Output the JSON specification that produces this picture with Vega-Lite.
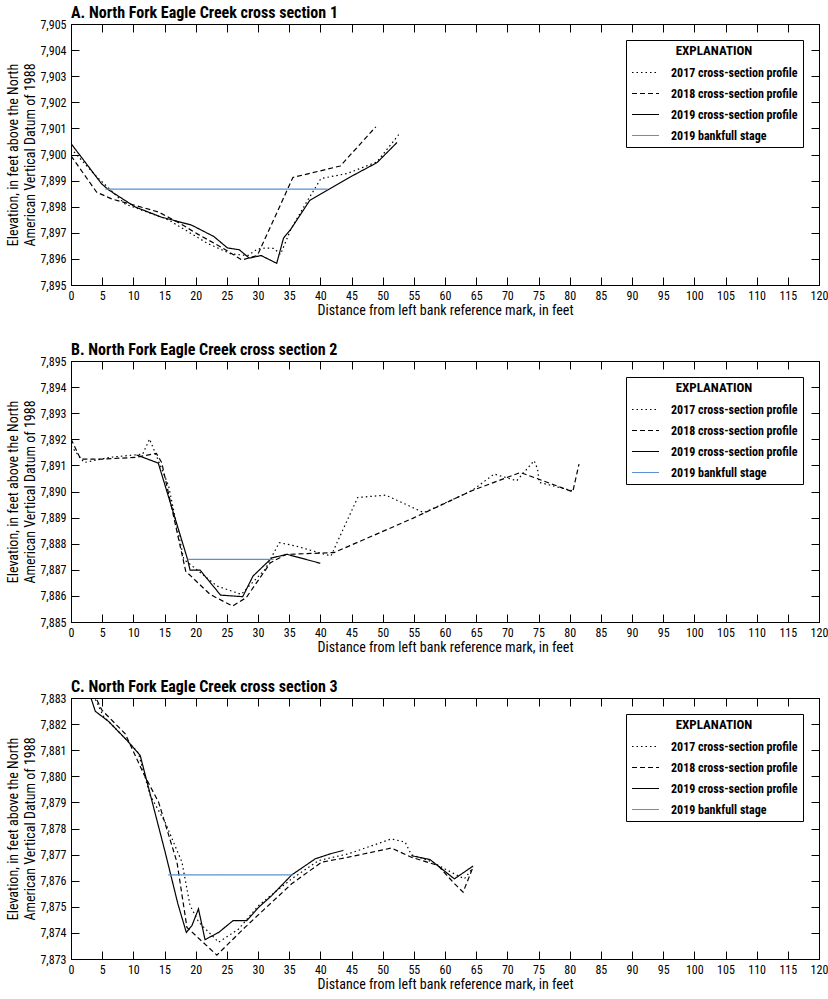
{
  "$schema": "https://vega.github.io/schema/vega-lite/v6.json",
  "padding": {"left": 6, "top": 4, "right": 0, "bottom": 0},
  "config": {
    "font": "Liberation Sans Narrow, Roboto Condensed, DejaVu Sans Condensed, sans-serif",
    "view": {"stroke": "black", "strokeWidth": 1},
    "concat": {"spacing": 23},
    "axis": {"grid": false, "domainColor": "black", "tickColor": "black", "tickSize": -8, "labelColor": "black", "labelFontSize": 12, "labelPadding": 13, "titleColor": "black", "titleFontSize": 14, "titleFontWeight": "normal", "titlePadding": 2, "titleLineHeight": 17, "labelFlush": false, "labelOverlap": false},
    "legend": {"orient": "top-right", "offset": 16, "strokeColor": "black", "fillColor": "white", "padding": 5, "titleFontSize": 13, "titleFontWeight": "bold", "titleColor": "black", "titlePadding": 0, "labelFontSize": 12, "labelFontWeight": "bold", "labelColor": "black", "labelOffset": 11, "symbolType": "stroke", "symbolSize": 729, "symbolStrokeWidth": 1.2, "rowPadding": -6},
    "title": {"anchor": "start", "frame": "group", "fontSize": 16, "fontWeight": "bold", "color": "black", "offset": -3}
  },
  "data": {"values": [
    {"p": "A", "s": "2017", "seg": 1, "x": 0, "y": 7900.23},
    {"p": "A", "s": "2017", "seg": 1, "x": 3.9, "y": 7899.2},
    {"p": "A", "s": "2017", "seg": 1, "x": 8.7, "y": 7898.1},
    {"p": "A", "s": "2017", "seg": 1, "x": 15.6, "y": 7897.5},
    {"p": "A", "s": "2017", "seg": 1, "x": 22, "y": 7896.58},
    {"p": "A", "s": "2017", "seg": 1, "x": 25.7, "y": 7896.19},
    {"p": "A", "s": "2017", "seg": 1, "x": 28.4, "y": 7896.13},
    {"p": "A", "s": "2017", "seg": 1, "x": 29.9, "y": 7896.38},
    {"p": "A", "s": "2017", "seg": 1, "x": 31.3, "y": 7896.42},
    {"p": "A", "s": "2017", "seg": 1, "x": 32.6, "y": 7896.4},
    {"p": "A", "s": "2017", "seg": 1, "x": 33.6, "y": 7896.17},
    {"p": "A", "s": "2017", "seg": 1, "x": 35.3, "y": 7897.15},
    {"p": "A", "s": "2017", "seg": 1, "x": 37.8, "y": 7898.18},
    {"p": "A", "s": "2017", "seg": 1, "x": 40.1, "y": 7899.08},
    {"p": "A", "s": "2017", "seg": 1, "x": 44.3, "y": 7899.27},
    {"p": "A", "s": "2017", "seg": 1, "x": 49.1, "y": 7899.72},
    {"p": "A", "s": "2017", "seg": 1, "x": 52.6, "y": 7900.77},
    {"p": "A", "s": "2018", "seg": 1, "x": 0, "y": 7899.95},
    {"p": "A", "s": "2018", "seg": 1, "x": 4.1, "y": 7898.56},
    {"p": "A", "s": "2018", "seg": 1, "x": 6.5, "y": 7898.3},
    {"p": "A", "s": "2018", "seg": 1, "x": 10.3, "y": 7898.05},
    {"p": "A", "s": "2018", "seg": 1, "x": 14, "y": 7897.8},
    {"p": "A", "s": "2018", "seg": 1, "x": 17.2, "y": 7897.4},
    {"p": "A", "s": "2018", "seg": 1, "x": 20.4, "y": 7896.94},
    {"p": "A", "s": "2018", "seg": 1, "x": 24.1, "y": 7896.45},
    {"p": "A", "s": "2018", "seg": 1, "x": 27.4, "y": 7895.96},
    {"p": "A", "s": "2018", "seg": 1, "x": 29.9, "y": 7896.13},
    {"p": "A", "s": "2018", "seg": 1, "x": 35.6, "y": 7899.12},
    {"p": "A", "s": "2018", "seg": 1, "x": 43.2, "y": 7899.56},
    {"p": "A", "s": "2018", "seg": 1, "x": 48.9, "y": 7901.06},
    {"p": "A", "s": "2019", "seg": 1, "x": 0, "y": 7900.42},
    {"p": "A", "s": "2019", "seg": 1, "x": 4.9, "y": 7898.88},
    {"p": "A", "s": "2019", "seg": 1, "x": 6, "y": 7898.65},
    {"p": "A", "s": "2019", "seg": 1, "x": 10.3, "y": 7897.99},
    {"p": "A", "s": "2019", "seg": 1, "x": 14.5, "y": 7897.6},
    {"p": "A", "s": "2019", "seg": 1, "x": 19.3, "y": 7897.3},
    {"p": "A", "s": "2019", "seg": 1, "x": 22.9, "y": 7896.86},
    {"p": "A", "s": "2019", "seg": 1, "x": 25.1, "y": 7896.42},
    {"p": "A", "s": "2019", "seg": 1, "x": 27, "y": 7896.35},
    {"p": "A", "s": "2019", "seg": 1, "x": 28.6, "y": 7896.03},
    {"p": "A", "s": "2019", "seg": 1, "x": 30.5, "y": 7896.13},
    {"p": "A", "s": "2019", "seg": 1, "x": 33, "y": 7895.83},
    {"p": "A", "s": "2019", "seg": 1, "x": 34.1, "y": 7896.8},
    {"p": "A", "s": "2019", "seg": 1, "x": 35.3, "y": 7897.15},
    {"p": "A", "s": "2019", "seg": 1, "x": 38.3, "y": 7898.24},
    {"p": "A", "s": "2019", "seg": 1, "x": 41.1, "y": 7898.63},
    {"p": "A", "s": "2019", "seg": 1, "x": 44.8, "y": 7899.14},
    {"p": "A", "s": "2019", "seg": 1, "x": 49.1, "y": 7899.69},
    {"p": "A", "s": "2019", "seg": 1, "x": 52.3, "y": 7900.46},
    {"p": "A", "s": "bankfull", "seg": 1, "x": 5.5, "y": 7898.67},
    {"p": "A", "s": "bankfull", "seg": 1, "x": 41.2, "y": 7898.67},

    {"p": "B", "s": "2017", "seg": 1, "x": 0, "y": 7891.75},
    {"p": "B", "s": "2017", "seg": 1, "x": 2.1, "y": 7891.11},
    {"p": "B", "s": "2017", "seg": 1, "x": 6.25, "y": 7891.31},
    {"p": "B", "s": "2017", "seg": 1, "x": 11.5, "y": 7891.43},
    {"p": "B", "s": "2017", "seg": 1, "x": 12.6, "y": 7892.01},
    {"p": "B", "s": "2017", "seg": 1, "x": 13.7, "y": 7891.37},
    {"p": "B", "s": "2017", "seg": 1, "x": 15.65, "y": 7890.22},
    {"p": "B", "s": "2017", "seg": 1, "x": 18.1, "y": 7887.4},
    {"p": "B", "s": "2017", "seg": 1, "x": 20.1, "y": 7887.02},
    {"p": "B", "s": "2017", "seg": 1, "x": 23.4, "y": 7886.38},
    {"p": "B", "s": "2017", "seg": 1, "x": 27.3, "y": 7886.06},
    {"p": "B", "s": "2017", "seg": 1, "x": 31.15, "y": 7887.02},
    {"p": "B", "s": "2017", "seg": 1, "x": 33.4, "y": 7888.04},
    {"p": "B", "s": "2017", "seg": 1, "x": 36.1, "y": 7887.91},
    {"p": "B", "s": "2017", "seg": 1, "x": 39.7, "y": 7887.66},
    {"p": "B", "s": "2017", "seg": 1, "x": 41.7, "y": 7887.53},
    {"p": "B", "s": "2017", "seg": 1, "x": 43.9, "y": 7888.68},
    {"p": "B", "s": "2017", "seg": 1, "x": 46, "y": 7889.77},
    {"p": "B", "s": "2017", "seg": 1, "x": 50.5, "y": 7889.86},
    {"p": "B", "s": "2017", "seg": 1, "x": 56.6, "y": 7889.19},
    {"p": "B", "s": "2017", "seg": 1, "x": 64.3, "y": 7890.03},
    {"p": "B", "s": "2017", "seg": 1, "x": 67.9, "y": 7890.67},
    {"p": "B", "s": "2017", "seg": 1, "x": 71.5, "y": 7890.41},
    {"p": "B", "s": "2017", "seg": 1, "x": 74.3, "y": 7891.18},
    {"p": "B", "s": "2017", "seg": 1, "x": 74.85, "y": 7890.86},
    {"p": "B", "s": "2017", "seg": 1, "x": 75.1, "y": 7890.35},
    {"p": "B", "s": "2017", "seg": 1, "x": 80.4, "y": 7890.03},
    {"p": "B", "s": "2018", "seg": 1, "x": 0, "y": 7892.01},
    {"p": "B", "s": "2018", "seg": 1, "x": 1.55, "y": 7891.24},
    {"p": "B", "s": "2018", "seg": 1, "x": 5.1, "y": 7891.24},
    {"p": "B", "s": "2018", "seg": 1, "x": 10.4, "y": 7891.31},
    {"p": "B", "s": "2018", "seg": 1, "x": 13.7, "y": 7891.46},
    {"p": "B", "s": "2018", "seg": 1, "x": 14.55, "y": 7891.11},
    {"p": "B", "s": "2018", "seg": 1, "x": 18.4, "y": 7886.95},
    {"p": "B", "s": "2018", "seg": 1, "x": 22.3, "y": 7886.06},
    {"p": "B", "s": "2018", "seg": 1, "x": 25.9, "y": 7885.61},
    {"p": "B", "s": "2018", "seg": 1, "x": 28.1, "y": 7885.93},
    {"p": "B", "s": "2018", "seg": 1, "x": 32, "y": 7887.27},
    {"p": "B", "s": "2018", "seg": 1, "x": 34.5, "y": 7887.59},
    {"p": "B", "s": "2018", "seg": 1, "x": 42.2, "y": 7887.66},
    {"p": "B", "s": "2018", "seg": 1, "x": 54.9, "y": 7888.98},
    {"p": "B", "s": "2018", "seg": 1, "x": 64.3, "y": 7890.03},
    {"p": "B", "s": "2018", "seg": 1, "x": 72.1, "y": 7890.73},
    {"p": "B", "s": "2018", "seg": 1, "x": 74.6, "y": 7890.51},
    {"p": "B", "s": "2018", "seg": 1, "x": 80.5, "y": 7889.99},
    {"p": "B", "s": "2018", "seg": 1, "x": 81.5, "y": 7891.05},
    {"p": "B", "s": "2019", "seg": 1, "x": 10.5, "y": 7891.4},
    {"p": "B", "s": "2019", "seg": 1, "x": 14, "y": 7891.09},
    {"p": "B", "s": "2019", "seg": 1, "x": 18.7, "y": 7887.4},
    {"p": "B", "s": "2019", "seg": 1, "x": 19.1, "y": 7886.99},
    {"p": "B", "s": "2019", "seg": 1, "x": 20.7, "y": 7886.99},
    {"p": "B", "s": "2019", "seg": 1, "x": 24, "y": 7886.03},
    {"p": "B", "s": "2019", "seg": 1, "x": 27.55, "y": 7885.97},
    {"p": "B", "s": "2019", "seg": 1, "x": 29.2, "y": 7886.76},
    {"p": "B", "s": "2019", "seg": 1, "x": 32.25, "y": 7887.46},
    {"p": "B", "s": "2019", "seg": 1, "x": 34.7, "y": 7887.59},
    {"p": "B", "s": "2019", "seg": 1, "x": 40, "y": 7887.25},
    {"p": "B", "s": "bankfull", "seg": 1, "x": 18.7, "y": 7887.4},
    {"p": "B", "s": "bankfull", "seg": 1, "x": 32.5, "y": 7887.4},

    {"p": "C", "s": "2017", "seg": 1, "x": 3.6, "y": 7883.1},
    {"p": "C", "s": "2017", "seg": 1, "x": 5.2, "y": 7882.3},
    {"p": "C", "s": "2017", "seg": 1, "x": 8.5, "y": 7881.5},
    {"p": "C", "s": "2017", "seg": 1, "x": 10.8, "y": 7880.9},
    {"p": "C", "s": "2017", "seg": 1, "x": 12.7, "y": 7879.27},
    {"p": "C", "s": "2017", "seg": 1, "x": 15.1, "y": 7878.24},
    {"p": "C", "s": "2017", "seg": 1, "x": 17.8, "y": 7876.71},
    {"p": "C", "s": "2017", "seg": 1, "x": 19.1, "y": 7875.05},
    {"p": "C", "s": "2017", "seg": 1, "x": 20.5, "y": 7874.41},
    {"p": "C", "s": "2017", "seg": 1, "x": 23.7, "y": 7873.64},
    {"p": "C", "s": "2017", "seg": 1, "x": 26.9, "y": 7874.15},
    {"p": "C", "s": "2017", "seg": 1, "x": 30.1, "y": 7875.05},
    {"p": "C", "s": "2017", "seg": 1, "x": 32.7, "y": 7875.56},
    {"p": "C", "s": "2017", "seg": 1, "x": 35.4, "y": 7876.07},
    {"p": "C", "s": "2017", "seg": 1, "x": 39.7, "y": 7876.77},
    {"p": "C", "s": "2017", "seg": 1, "x": 44.5, "y": 7877.03},
    {"p": "C", "s": "2017", "seg": 1, "x": 51.4, "y": 7877.6},
    {"p": "C", "s": "2017", "seg": 1, "x": 53.6, "y": 7877.48},
    {"p": "C", "s": "2017", "seg": 1, "x": 54.6, "y": 7877.0},
    {"p": "C", "s": "2017", "seg": 1, "x": 57.85, "y": 7876.73},
    {"p": "C", "s": "2017", "seg": 1, "x": 60, "y": 7876.45},
    {"p": "C", "s": "2017", "seg": 1, "x": 63.1, "y": 7876.07},
    {"p": "C", "s": "2017", "seg": 1, "x": 64.5, "y": 7876.5},
    {"p": "C", "s": "2018", "seg": 1, "x": 3.6, "y": 7883.2},
    {"p": "C", "s": "2018", "seg": 1, "x": 4.97, "y": 7882.53},
    {"p": "C", "s": "2018", "seg": 1, "x": 8.7, "y": 7881.63},
    {"p": "C", "s": "2018", "seg": 1, "x": 11.65, "y": 7880.1},
    {"p": "C", "s": "2018", "seg": 1, "x": 14.05, "y": 7879.01},
    {"p": "C", "s": "2018", "seg": 1, "x": 17, "y": 7876.71},
    {"p": "C", "s": "2018", "seg": 1, "x": 18.6, "y": 7874.21},
    {"p": "C", "s": "2018", "seg": 1, "x": 23.4, "y": 7873.15},
    {"p": "C", "s": "2018", "seg": 1, "x": 27.9, "y": 7874.21},
    {"p": "C", "s": "2018", "seg": 1, "x": 32.2, "y": 7875.17},
    {"p": "C", "s": "2018", "seg": 1, "x": 35.4, "y": 7875.88},
    {"p": "C", "s": "2018", "seg": 1, "x": 40.2, "y": 7876.71},
    {"p": "C", "s": "2018", "seg": 1, "x": 44.5, "y": 7876.9},
    {"p": "C", "s": "2018", "seg": 1, "x": 51.4, "y": 7877.25},
    {"p": "C", "s": "2018", "seg": 1, "x": 54.6, "y": 7876.9},
    {"p": "C", "s": "2018", "seg": 1, "x": 58.9, "y": 7876.58},
    {"p": "C", "s": "2018", "seg": 1, "x": 61.3, "y": 7875.94},
    {"p": "C", "s": "2018", "seg": 1, "x": 62.9, "y": 7875.56},
    {"p": "C", "s": "2018", "seg": 1, "x": 64.5, "y": 7876.52},
    {"p": "C", "s": "2019", "seg": 1, "x": 2.8, "y": 7883.3},
    {"p": "C", "s": "2019", "seg": 1, "x": 3.9, "y": 7882.49},
    {"p": "C", "s": "2019", "seg": 1, "x": 6.04, "y": 7882.1},
    {"p": "C", "s": "2019", "seg": 1, "x": 8.97, "y": 7881.38},
    {"p": "C", "s": "2019", "seg": 1, "x": 11.1, "y": 7880.8},
    {"p": "C", "s": "2019", "seg": 1, "x": 15.1, "y": 7877.1},
    {"p": "C", "s": "2019", "seg": 1, "x": 17.15, "y": 7875.11},
    {"p": "C", "s": "2019", "seg": 1, "x": 18.5, "y": 7874.02},
    {"p": "C", "s": "2019", "seg": 1, "x": 19.4, "y": 7874.28},
    {"p": "C", "s": "2019", "seg": 1, "x": 20.45, "y": 7874.92},
    {"p": "C", "s": "2019", "seg": 1, "x": 21.5, "y": 7873.74},
    {"p": "C", "s": "2019", "seg": 1, "x": 23.7, "y": 7874.02},
    {"p": "C", "s": "2019", "seg": 1, "x": 26, "y": 7874.47},
    {"p": "C", "s": "2019", "seg": 1, "x": 28.2, "y": 7874.47},
    {"p": "C", "s": "2019", "seg": 1, "x": 30.1, "y": 7874.98},
    {"p": "C", "s": "2019", "seg": 1, "x": 32.2, "y": 7875.43},
    {"p": "C", "s": "2019", "seg": 1, "x": 35.4, "y": 7876.22},
    {"p": "C", "s": "2019", "seg": 1, "x": 39.2, "y": 7876.84},
    {"p": "C", "s": "2019", "seg": 1, "x": 41.6, "y": 7877.03},
    {"p": "C", "s": "2019", "seg": 1, "x": 43.7, "y": 7877.16},
    {"p": "C", "s": "2019", "seg": 2, "x": 54.6, "y": 7876.96},
    {"p": "C", "s": "2019", "seg": 2, "x": 57.6, "y": 7876.81},
    {"p": "C", "s": "2019", "seg": 2, "x": 61.5, "y": 7876.07},
    {"p": "C", "s": "2019", "seg": 2, "x": 64.5, "y": 7876.56},
    {"p": "C", "s": "bankfull", "seg": 1, "x": 15.6, "y": 7876.22},
    {"p": "C", "s": "bankfull", "seg": 1, "x": 35.6, "y": 7876.22}
  ]},
  "resolve": {
    "scale": {"color": "independent", "strokeDash": "independent"},
    "legend": {"color": "independent", "strokeDash": "independent"}
  },
  "vconcat": [
    {
      "title": "A. North Fork Eagle Creek cross section 1",
      "width": 748,
      "height": 261,
      "transform": [{"filter": "datum.p === 'A'"}],
      "layer": [
        {
          "mark": {"type": "line", "clip": true, "strokeWidth": 1.2},
          "encoding": {
            "x": {"field": "x", "type": "quantitative", "scale": {"domain": [0, 120], "nice": false}, "axis": {"orient": "bottom", "values": [0,5,10,15,20,25,30,35,40,45,50,55,60,65,70,75,80,85,90,95,100,105,110,115,120], "title": "Distance from left bank reference mark, in feet"}},
            "y": {"field": "y", "type": "quantitative", "scale": {"domain": [7895, 7905], "nice": false, "zero": false}, "axis": {"orient": "left", "values": [7895,7896,7897,7898,7899,7900,7901,7902,7903,7904,7905], "format": ",d", "title": ["Elevation, in feet above the North", "American Vertical Datum of 1988"]}},
            "color": {"field": "s", "type": "nominal", "title": "EXPLANATION", "scale": {"domain": ["2017", "2018", "2019", "bankfull"], "range": ["black", "black", "black", "#5b8fd0"]}, "legend": {"titleAnchor": "middle", "titleAlign": "center", "labelExpr": "datum.label == 'bankfull' ? '2019 bankfull stage' : datum.label + ' cross-section profile'"}},
            "strokeDash": {"field": "s", "type": "nominal", "title": "EXPLANATION", "scale": {"domain": ["2017", "2018", "2019", "bankfull"], "range": [[1.5, 3], [5, 3], [1, 0], [1, 0]]}},
            "detail": {"field": "seg", "type": "nominal"}
          }
        },
        {
          "mark": {"type": "point", "opacity": 0},
          "encoding": {
            "x": {"field": "x", "type": "quantitative", "axis": {"orient": "top", "labels": false, "title": null, "values": [0,5,10,15,20,25,30,35,40,45,50,55,60,65,70,75,80,85,90,95,100,105,110,115,120]}},
            "y": {"field": "y", "type": "quantitative", "axis": {"orient": "right", "labels": false, "title": null, "values": [7895,7896,7897,7898,7899,7900,7901,7902,7903,7904,7905]}}
          }
        }
      ],
      "resolve": {"axis": {"x": "independent", "y": "independent"}}
    },
    {
      "title": "B. North Fork Eagle Creek cross section 2",
      "width": 748,
      "height": 261,
      "transform": [{"filter": "datum.p === 'B'"}],
      "layer": [
        {
          "mark": {"type": "line", "clip": true, "strokeWidth": 1.2},
          "encoding": {
            "x": {"field": "x", "type": "quantitative", "scale": {"domain": [0, 120], "nice": false}, "axis": {"orient": "bottom", "values": [0,5,10,15,20,25,30,35,40,45,50,55,60,65,70,75,80,85,90,95,100,105,110,115,120], "title": "Distance from left bank reference mark, in feet"}},
            "y": {"field": "y", "type": "quantitative", "scale": {"domain": [7885, 7895], "nice": false, "zero": false}, "axis": {"orient": "left", "values": [7885,7886,7887,7888,7889,7890,7891,7892,7893,7894,7895], "format": ",d", "title": ["Elevation, in feet above the North", "American Vertical Datum of 1988"]}},
            "color": {"field": "s", "type": "nominal", "title": "EXPLANATION", "scale": {"domain": ["2017", "2018", "2019", "bankfull"], "range": ["black", "black", "black", "#5b8fd0"]}, "legend": {"titleAnchor": "middle", "titleAlign": "center", "labelExpr": "datum.label == 'bankfull' ? '2019 bankfull stage' : datum.label + ' cross-section profile'"}},
            "strokeDash": {"field": "s", "type": "nominal", "title": "EXPLANATION", "scale": {"domain": ["2017", "2018", "2019", "bankfull"], "range": [[1.5, 3], [5, 3], [1, 0], [1, 0]]}},
            "detail": {"field": "seg", "type": "nominal"}
          }
        },
        {
          "mark": {"type": "point", "opacity": 0},
          "encoding": {
            "x": {"field": "x", "type": "quantitative", "axis": {"orient": "top", "labels": false, "title": null, "values": [0,5,10,15,20,25,30,35,40,45,50,55,60,65,70,75,80,85,90,95,100,105,110,115,120]}},
            "y": {"field": "y", "type": "quantitative", "axis": {"orient": "right", "labels": false, "title": null, "values": [7885,7886,7887,7888,7889,7890,7891,7892,7893,7894,7895]}}
          }
        }
      ],
      "resolve": {"axis": {"x": "independent", "y": "independent"}}
    },
    {
      "title": "C. North Fork Eagle Creek cross section 3",
      "width": 748,
      "height": 261,
      "transform": [{"filter": "datum.p === 'C'"}],
      "layer": [
        {
          "mark": {"type": "line", "clip": true, "strokeWidth": 1.2},
          "encoding": {
            "x": {"field": "x", "type": "quantitative", "scale": {"domain": [0, 120], "nice": false}, "axis": {"orient": "bottom", "values": [0,5,10,15,20,25,30,35,40,45,50,55,60,65,70,75,80,85,90,95,100,105,110,115,120], "title": "Distance from left bank reference mark, in feet"}},
            "y": {"field": "y", "type": "quantitative", "scale": {"domain": [7873, 7883], "nice": false, "zero": false}, "axis": {"orient": "left", "values": [7873,7874,7875,7876,7877,7878,7879,7880,7881,7882,7883], "format": ",d", "title": ["Elevation, in feet above the North", "American Vertical Datum of 1988"]}},
            "color": {"field": "s", "type": "nominal", "title": "EXPLANATION", "scale": {"domain": ["2017", "2018", "2019", "bankfull"], "range": ["black", "black", "black", "#5b8fd0"]}, "legend": {"titleAnchor": "middle", "titleAlign": "center", "labelExpr": "datum.label == 'bankfull' ? '2019 bankfull stage' : datum.label + ' cross-section profile'"}},
            "strokeDash": {"field": "s", "type": "nominal", "title": "EXPLANATION", "scale": {"domain": ["2017", "2018", "2019", "bankfull"], "range": [[1.5, 3], [5, 3], [1, 0], [1, 0]]}},
            "detail": {"field": "seg", "type": "nominal"}
          }
        },
        {
          "mark": {"type": "point", "opacity": 0, "clip": true},
          "encoding": {
            "x": {"field": "x", "type": "quantitative", "axis": {"orient": "top", "labels": false, "title": null, "values": [0,5,10,15,20,25,30,35,40,45,50,55,60,65,70,75,80,85,90,95,100,105,110,115,120]}},
            "y": {"field": "y", "type": "quantitative", "axis": {"orient": "right", "labels": false, "title": null, "values": [7873,7874,7875,7876,7877,7878,7879,7880,7881,7882,7883]}}
          }
        }
      ],
      "resolve": {"axis": {"x": "independent", "y": "independent"}}
    }
  ]
}
